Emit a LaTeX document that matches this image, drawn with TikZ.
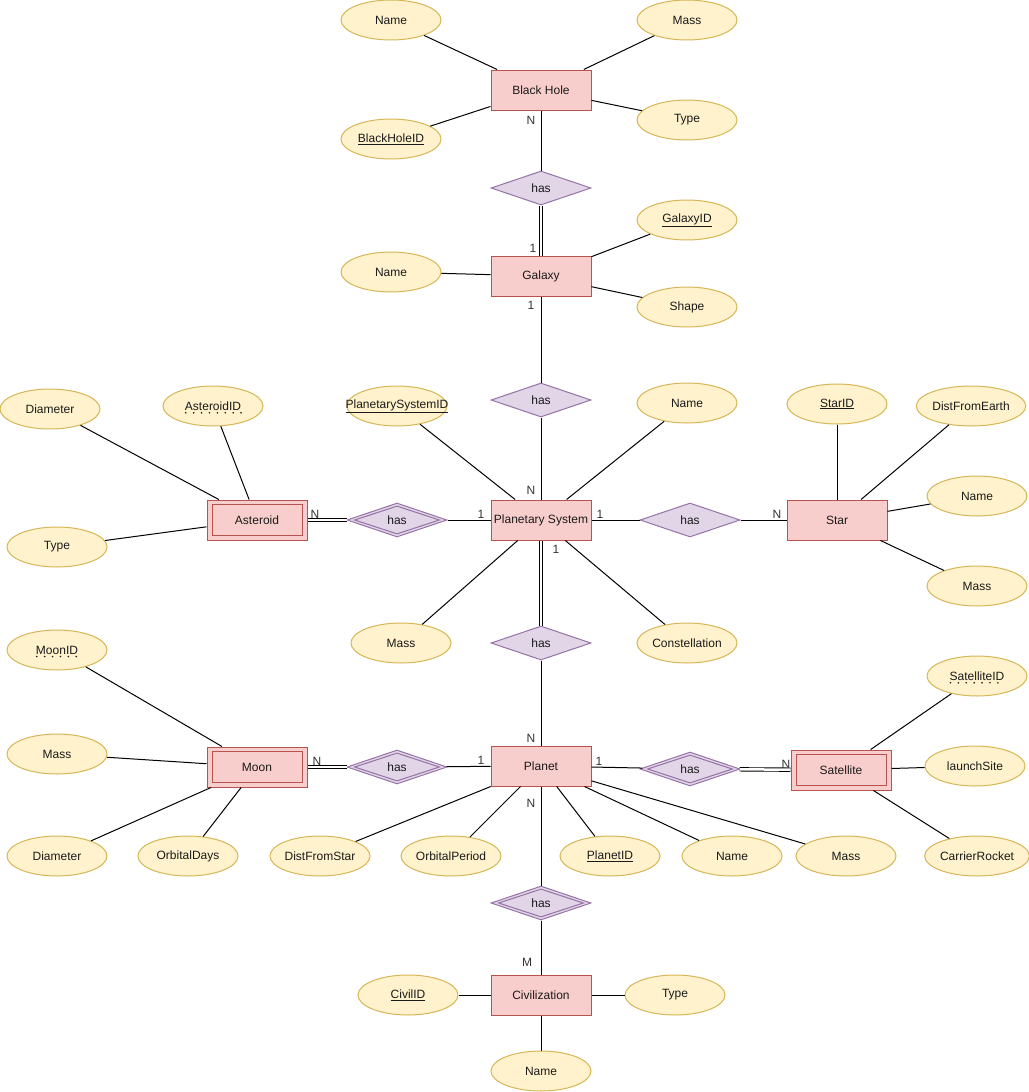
\documentclass[tikz,border=0pt]{standalone}
\usepackage{fontspec}
\setmainfont{Liberation Sans}
\usetikzlibrary{shapes.geometric}
\definecolor{entF}{HTML}{F8CECC}
\definecolor{entD}{HTML}{B85450}
\definecolor{attF}{HTML}{FFF2CC}
\definecolor{attD}{HTML}{D6B656}
\definecolor{relF}{HTML}{E1D5E7}
\definecolor{relD}{HTML}{9673A6}
\definecolor{txt}{HTML}{1A1A1A}
\definecolor{labc}{HTML}{333333}
\begin{document}
\begin{tikzpicture}[x=1pt,y=-1pt,
  every node/.style={font=\fontsize{12}{14}\selectfont, text=txt},
  ent/.style={draw=entD, fill=entF, minimum width=100pt, minimum height=40pt, inner sep=0pt, line width=1pt},
  weakin/.style={draw=entD, minimum width=90pt, minimum height=31pt, inner sep=0pt, line width=1pt},
  attr/.style={ellipse, draw=attD, fill=attF, minimum width=100pt, minimum height=40pt, inner sep=0pt, line width=1pt},
  rel/.style={diamond, draw=relD, fill=relF, minimum width=100pt, minimum height=34pt, inner sep=0pt, line width=1pt},
  relin/.style={diamond, draw=relD, minimum width=85pt, minimum height=28pt, inner sep=0pt, line width=1pt},
  conn/.style={draw=black, line width=1pt},
  dconn/.style={draw=black, double=white, double distance=2.5pt, line width=0.9pt},
  lab/.style={text=labc, inner sep=0pt},
  ktext/.style={inner sep=0pt},
  dotline/.style={draw=txt, line width=1.8pt, line cap=round, dash pattern=on 0pt off 7.9pt}
]
\useasboundingbox (0,0) rectangle (1028,1092);

% ---------- entities ----------
\node[ent] (bh) at (541,90) {Black Hole};
\node[ent] (gal) at (541,276) {Galaxy};
\node[ent] (ps) at (541,520) {Planetary System};
\node[ent] (star) at (837,520) {Star};
\node[ent] (ast) at (257,520) {};
\node[weakin] (astin) at (257,520) {Asteroid};
\node[ent] (planet) at (541,766) {Planet};
\node[ent] (moon) at (257,767) {};
\node[weakin] (moonin) at (257,767) {Moon};
\node[ent] (sat) at (841,770) {};
\node[weakin] (satin) at (841,770) {Satellite};
\node[ent] (civ) at (541,995) {Civilization};

% ---------- relationships ----------
\node[rel] (rbg) at (541,188) {has};
\node[rel] (rgp) at (541,400) {has};
\node[rel] (rpa) at (397,520) {};
\node[relin] (rpain) at (397,520) {has};
\node[rel] (rps) at (690,520) {has};
\node[rel] (rpp) at (541,643) {has};
\node[rel] (rpm) at (397,767) {};
\node[relin] (rpmin) at (397,767) {has};
\node[rel] (rpsat) at (690,769) {};
\node[relin] (rpsatin) at (690,769) {has};
\node[rel] (rpc) at (541,903) {};
\node[relin] (rpcin) at (541,903) {has};

% ---------- attributes ----------
\node[attr] (bhname) at (391,20) {Name};
\node[attr] (bhmass) at (687,20) {Mass};
\node[attr] (bhtype) at (687,120) {Type};
\node[attr] (bhid) at (391,139) {\underline{BlackHoleID}};

\node[attr] (galname) at (391,272) {Name};
\node[attr] (galid) at (687,220) {\underline{GalaxyID}};
\node[attr] (galshape) at (687,307) {Shape};

\node[attr] (psid) at (397,406) {};
\node[ktext] (psidT) at (psid) {\underline{PlanetarySystemID}};
\node[attr] (psname) at (687,403) {Name};
\node[attr] (psmass) at (401,643) {Mass};
\node[attr] (pscon) at (687,643) {Constellation};

\node[attr] (starid) at (837,404) {\underline{StarID}};
\node[attr] (stardist) at (971,406) {DistFromEarth};
\node[attr] (starname) at (977,496) {Name};
\node[attr] (starmass) at (977,586) {Mass};

\node[attr] (astdia) at (50,409) {Diameter};
\node[attr] (astid) at (213,406) {};
\node[ktext] (astidT) at (astid) {AsteroidID};
\node[attr] (asttype) at (57,547) {Type};

\node[attr] (moonid) at (57,650) {};
\node[ktext] (moonidT) at (moonid) {MoonID};
\node[attr] (moonmass) at (57,754) {Mass};
\node[attr] (moondia) at (57,856) {Diameter};
\node[attr] (moonorb) at (188,856) {OrbitalDays};

\node[attr] (pldist) at (320,856) {DistFromStar};
\node[attr] (plorb) at (451,856) {OrbitalPeriod};
\node[attr] (plid) at (610,856) {\underline{PlanetID}};
\node[attr] (plname) at (732,856) {Name};
\node[attr] (plmass) at (846,856) {Mass};

\node[attr] (satid) at (977,676) {};
\node[ktext] (satidT) at (satid) {SatelliteID};
\node[attr] (satsite) at (975,766) {launchSite};
\node[attr] (satrock) at (977,856) {CarrierRocket};

\node[attr] (civid) at (408,995) {\underline{CivilID}};
\node[attr] (civtype) at (675,995) {Type};
\node[attr] (civname) at (541,1071) {Name};

% partial-key dotted underlines
\draw[dotline] ([shift={(1pt,-2.5pt)}]astidT.base west) -- ([yshift=-2.5pt]astidT.base east);
\draw[dotline] ([shift={(1pt,-2.5pt)}]moonidT.base west) -- ([yshift=-2.5pt]moonidT.base east);
\draw[dotline] ([shift={(1pt,-2.5pt)}]satidT.base west) -- ([yshift=-2.5pt]satidT.base east);

% ---------- relationship connectors ----------
\draw[conn] (bh) -- (rbg);
\draw[dconn] (rbg) -- (gal);
\draw[conn] (gal) -- (rgp);
\draw[conn] (rgp) -- (ps);
\draw[dconn] (ast) -- (rpa);
\draw[conn] (rpa) -- (ps);
\draw[conn] (ps) -- (rps);
\draw[conn] (rps) -- (star);
\draw[dconn] (ps) -- (rpp);
\draw[conn] (rpp) -- (planet);
\draw[dconn] (moon) -- (rpm);
\draw[conn] (rpm) -- (planet);
\draw[conn] (planet) -- (rpsat);
\draw[dconn] (rpsat) -- (sat);
\draw[conn] (planet) -- (rpc);
\draw[conn] (rpc) -- (civ);

% ---------- attribute connectors ----------
\foreach \a/\e in {bhname/bh, bhmass/bh, bhtype/bh, bhid/bh,
  galname/gal, galid/gal, galshape/gal,
  psid/ps, psname/ps, psmass/ps, pscon/ps,
  starid/star, stardist/star, starname/star, starmass/star,
  astdia/ast, astid/ast, asttype/ast,
  moonid/moon, moonmass/moon, moondia/moon, moonorb/moon,
  pldist/planet, plorb/planet, plid/planet, plname/planet, plmass/planet,
  satid/sat, satsite/sat, satrock/sat,
  civid/civ, civtype/civ, civname/civ}
  \draw[conn] (\a) -- (\e);

% ---------- cardinality labels ----------
\node[lab] (l1) at (531,120) {N};
\node[lab] (l2) at (533,248) {1};
\node[lab] (l3) at (531,305) {1};
\node[lab] (l4) at (531,490) {N};
\node[lab] (l5) at (315,514) {N};
\node[lab] (l6) at (481,514) {1};
\node[lab] (l7) at (600,514) {1};
\node[lab] (l8) at (777,514) {N};
\node[lab] (l9) at (556,549) {1};
\node[lab] (l10) at (531,738) {N};
\node[lab] (l11) at (317,761) {N};
\node[lab] (l12) at (481,760) {1};
\node[lab] (l13) at (599,761) {1};
\node[lab] (l14) at (786,764) {N};
\node[lab] (l15) at (531,803) {N};
\node[lab] (l16) at (527,962) {M};
\end{tikzpicture}
\end{document}
